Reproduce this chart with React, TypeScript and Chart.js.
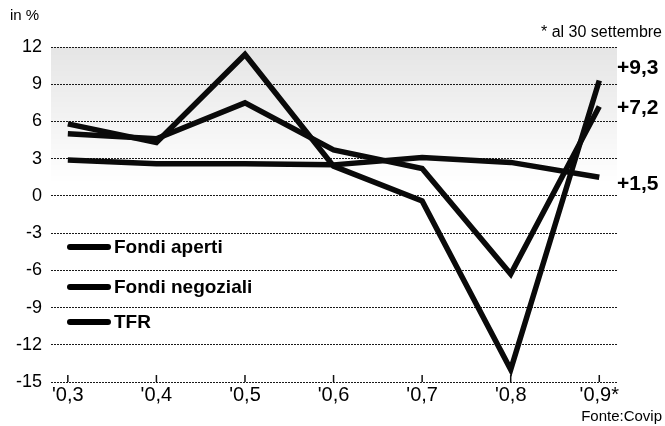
import React, { useEffect, useRef } from "react";
import { Chart, registerables } from "chart.js";

Chart.register(...registerables);

const categories = ["'0,3", "'0,4", "'0,5", "'0,6", "'0,7", "'0,8", "'0,9*"];
const fondiAperti = [5.8, 4.3, 11.4, 2.4, -0.4, -14.0, 9.3];
const fondiNegoziali = [5.0, 4.6, 7.5, 3.7, 2.2, -6.3, 7.2];
const tfr = [2.9, 2.6, 2.6, 2.5, 3.1, 2.7, 1.5];
const seriesNames = ["Fondi aperti", "Fondi negoziali", "TFR"];
const endLabels = ["+9,3", "+7,2", "+1,5"];
const yMin = -15;
const yMax = 12;
const yStep = 3;

const FONT = "'Liberation Sans', Arial, Helvetica, sans-serif";

export default function App() {
  const ref = useRef<HTMLCanvasElement | null>(null);

  useEffect(() => {
    document.body.style.margin = "0";
    const canvas = ref.current;
    if (!canvas) return;

    const series = [fondiAperti, fondiNegoziali, tfr];

    const decor = {
      id: "decor",
      beforeDraw(chart: any) {
        const { ctx, chartArea, scales } = chart;
        const y = scales.y;
        const top = y.getPixelForValue(yMax);
        const bot = y.getPixelForValue(1);
        const g = ctx.createLinearGradient(0, top, 0, bot);
        g.addColorStop(0, "rgba(0,0,0,0.10)");
        g.addColorStop(0.5, "rgba(0,0,0,0.05)");
        g.addColorStop(1, "rgba(0,0,0,0)");
        ctx.save();
        ctx.fillStyle = g;
        ctx.fillRect(chartArea.left, top, chartArea.right - chartArea.left, bot - top);
        ctx.restore();
      },
      afterDatasetsDraw(chart: any) {
        const { ctx, chartArea, scales } = chart;
        const x = scales.x;
        ctx.save();
        ctx.strokeStyle = "#111";
        ctx.lineWidth = 1.5;
        categories.forEach((_, i) => {
          const px = x.getPixelForValue(i);
          ctx.beginPath();
          ctx.moveTo(px, chartArea.bottom);
          ctx.lineTo(px, chartArea.bottom - 7);
          ctx.stroke();
        });
        ctx.restore();
      },
      afterDraw(chart: any) {
        const { ctx, scales } = chart;
        const y = scales.y;
        ctx.save();
        ctx.fillStyle = "#000";
        const legendY = [247, 287, 322];
        seriesNames.forEach((name, i) => {
          ctx.strokeStyle = "#000";
          ctx.lineWidth = 6;
          ctx.lineCap = "round";
          ctx.beginPath();
          ctx.moveTo(70, legendY[i]);
          ctx.lineTo(108, legendY[i]);
          ctx.stroke();
          ctx.font = `bold 19px ${FONT}`;
          ctx.textAlign = "left";
          ctx.textBaseline = "middle";
          ctx.fillText(name, 114, legendY[i] + 1);
        });
        const offs = [-12, 1.5, 6.5];
        ctx.font = `bold 21px ${FONT}`;
        ctx.textAlign = "left";
        ctx.textBaseline = "middle";
        series.forEach((s, i) => {
          const py = y.getPixelForValue(s[s.length - 1]) + offs[i];
          ctx.fillText(endLabels[i], 617, py);
        });
        ctx.font = `15px ${FONT}`;
        ctx.textAlign = "left";
        ctx.fillText("in %", 10, 16);
        ctx.font = `16px ${FONT}`;
        ctx.textAlign = "right";
        ctx.fillText("* al 30 settembre", 662, 33);
        ctx.font = `15px ${FONT}`;
        ctx.fillText("Fonte:Covip", 662, 417);
        ctx.restore();
      },
    };

    const chart = new Chart(canvas, {
      type: "line",
      data: {
        datasets: [
          { label: seriesNames[2], data: tfr.map((v, i) => ({ x: i, y: v })) },
          { label: seriesNames[1], data: fondiNegoziali.map((v, i) => ({ x: i, y: v })) },
          { label: seriesNames[0], data: fondiAperti.map((v, i) => ({ x: i, y: v })) },
        ].map((d) => ({
          ...d,
          borderColor: "#0a0a0a",
          backgroundColor: "#0a0a0a",
          borderWidth: 5.5,
          pointRadius: 0,
          tension: 0,
          borderJoinStyle: "miter" as const,
          borderCapStyle: "butt" as const,
          fill: false,
        })),
      },
      options: {
        responsive: false,
        animation: false,
        events: [],
        layout: { padding: { top: 47, right: 48, left: 0, bottom: 0 } },
        plugins: { legend: { display: false }, tooltip: { enabled: false } },
        scales: {
          x: {
            type: "linear",
            min: -0.19,
            max: 6.2,
            afterBuildTicks: (scale: any) => {
              scale.ticks = categories.map((_, i) => ({ value: i }));
            },
            afterFit: (scale: any) => {
              scale.height = 44;
            },
            grid: { display: false, drawTicks: false },
            border: { display: false },
            ticks: {
              autoSkip: false,
              maxRotation: 0,
              padding: 1,
              color: "#000",
              font: { family: FONT, size: 20 },
              callback: (v: any) => categories[Math.round(Number(v))] ?? "",
            },
          },
          y: {
            min: yMin,
            max: yMax,
            afterFit: (scale: any) => {
              scale.width = 51;
            },
            grid: {
              color: "#1a1a1a",
              lineWidth: 1,
              drawTicks: false,
            },
            border: { display: false, dash: [2, 1] },
            ticks: {
              stepSize: yStep,
              padding: 9,
              color: "#000",
              font: { family: FONT, size: 18 },
            },
          },
        },
      },
      plugins: [decor],
    });

    return () => chart.destroy();
  }, []);

  return (
    <div style={{ width: 665, height: 426 }}>
      <canvas ref={ref} width={665} height={426} />
    </div>
  );
}
